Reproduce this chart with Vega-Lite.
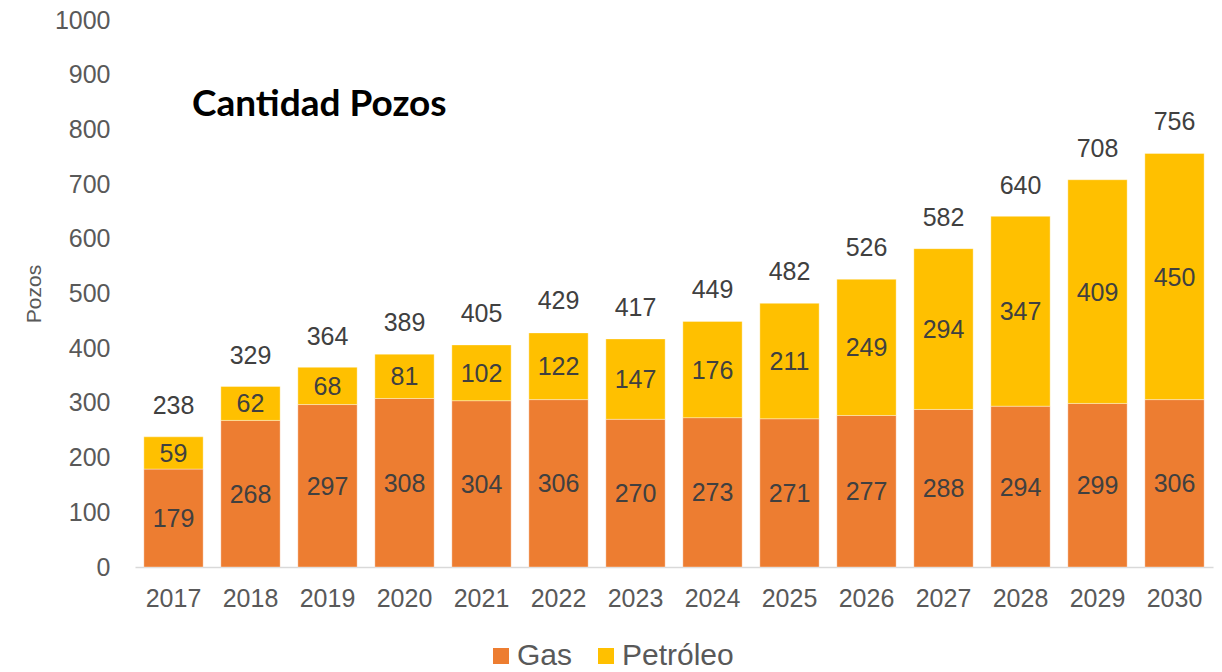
{
  "$schema": "https://vega.github.io/schema/vega-lite/v6.json",
  "width": 1078,
  "height": 547,
  "autosize": {"type": "none"},
  "padding": {"left": 135, "top": 20, "right": 9, "bottom": 105},
  "background": "white",
  "config": {"view": {"stroke": null}, "font": "Liberation Sans"},
  "title": {
    "text": "Cantidad Pozos",
    "anchor": "start",
    "frame": "group",
    "orient": "top",
    "offset": 0,
    "baseline": "alphabetic",
    "dx": 57,
    "dy": 145,
    "font": "Lato",
    "fontSize": 37,
    "fontWeight": "bold",
    "color": "#000000"
  },
  "datasets": {
    "pozos": [
      {"year": "2017", "serie": "Gas", "value": 179},
      {"year": "2018", "serie": "Gas", "value": 268},
      {"year": "2019", "serie": "Gas", "value": 297},
      {"year": "2020", "serie": "Gas", "value": 308},
      {"year": "2021", "serie": "Gas", "value": 304},
      {"year": "2022", "serie": "Gas", "value": 306},
      {"year": "2023", "serie": "Gas", "value": 270},
      {"year": "2024", "serie": "Gas", "value": 273},
      {"year": "2025", "serie": "Gas", "value": 271},
      {"year": "2026", "serie": "Gas", "value": 277},
      {"year": "2027", "serie": "Gas", "value": 288},
      {"year": "2028", "serie": "Gas", "value": 294},
      {"year": "2029", "serie": "Gas", "value": 299},
      {"year": "2030", "serie": "Gas", "value": 306},
      {"year": "2017", "serie": "Petróleo", "value": 59},
      {"year": "2018", "serie": "Petróleo", "value": 62},
      {"year": "2019", "serie": "Petróleo", "value": 68},
      {"year": "2020", "serie": "Petróleo", "value": 81},
      {"year": "2021", "serie": "Petróleo", "value": 102},
      {"year": "2022", "serie": "Petróleo", "value": 122},
      {"year": "2023", "serie": "Petróleo", "value": 147},
      {"year": "2024", "serie": "Petróleo", "value": 176},
      {"year": "2025", "serie": "Petróleo", "value": 211},
      {"year": "2026", "serie": "Petróleo", "value": 249},
      {"year": "2027", "serie": "Petróleo", "value": 294},
      {"year": "2028", "serie": "Petróleo", "value": 347},
      {"year": "2029", "serie": "Petróleo", "value": 409},
      {"year": "2030", "serie": "Petróleo", "value": 450}
    ],
    "totales": [
      {"year": "2017", "total": 238},
      {"year": "2018", "total": 329},
      {"year": "2019", "total": 364},
      {"year": "2020", "total": 389},
      {"year": "2021", "total": 405},
      {"year": "2022", "total": 429},
      {"year": "2023", "total": 417},
      {"year": "2024", "total": 449},
      {"year": "2025", "total": 482},
      {"year": "2026", "total": 526},
      {"year": "2027", "total": 582},
      {"year": "2028", "total": 640},
      {"year": "2029", "total": 708},
      {"year": "2030", "total": 756}
    ]
  },
  "encoding": {
    "x": {
      "field": "year",
      "type": "nominal",
      "scale": {"paddingInner": 0.23, "paddingOuter": 0.115},
      "axis": {
        "title": null,
        "labelAngle": 0,
        "labelFontSize": 25,
        "labelColor": "#595959",
        "labelPadding": 19,
        "ticks": false,
        "domainColor": "#d9d9d9",
        "domainWidth": 1.5
      }
    }
  },
  "layer": [
    {
      "data": {"name": "pozos"},
      "transform": [
        {"stack": "value", "groupby": ["year"], "sort": [{"field": "serie", "order": "ascending"}], "as": ["v0", "v1"]}
      ],
      "mark": {"type": "bar", "stroke": "#ffffff", "strokeWidth": 0.6, "strokeOpacity": 0.6},
      "encoding": {
        "y": {
          "field": "v1",
          "type": "quantitative",
          "scale": {"domain": [0, 1000], "nice": false},
          "axis": {
            "values": [0, 100, 200, 300, 400, 500, 600, 700, 800, 900, 1000],
            "format": "d",
            "grid": false,
            "domain": false,
            "ticks": false,
            "labelFontSize": 25,
            "labelColor": "#595959",
            "labelPadding": 25,
            "title": "Pozos",
            "titleFontSize": 21,
            "titleFontWeight": "normal",
            "titleColor": "#595959",
            "titlePadding": 10
          }
        },
        "y2": {"field": "v0"},
        "color": {
          "field": "serie",
          "type": "nominal",
          "scale": {"domain": ["Gas", "Petróleo"], "range": ["#ED7D31", "#FFC000"]},
          "legend": {
            "title": null,
            "orient": "none",
            "direction": "horizontal",
            "legendX": 351,
            "legendY": 621,
            "symbolType": "square",
            "symbolSize": 256,
            "symbolStrokeWidth": 0,
            "symbolOpacity": 1,
            "labelFontSize": 30,
            "labelColor": "#595959",
            "labelOffset": 1,
            "columnPadding": 18
          }
        }
      }
    },
    {
      "data": {"name": "pozos"},
      "transform": [
        {"stack": "value", "groupby": ["year"], "sort": [{"field": "serie", "order": "ascending"}], "as": ["v0", "v1"]},
        {"calculate": "(datum.v0 + datum.v1) / 2", "as": "mid"}
      ],
      "mark": {"type": "text", "fontSize": 25, "color": "#404040", "baseline": "middle", "dy": 1},
      "encoding": {
        "y": {"field": "mid", "type": "quantitative"},
        "text": {"field": "value", "type": "quantitative"}
      }
    },
    {
      "data": {"name": "totales"},
      "mark": {"type": "text", "fontSize": 25, "color": "#404040", "baseline": "bottom", "dy": -18},
      "encoding": {
        "y": {"field": "total", "type": "quantitative"},
        "text": {"field": "total", "type": "quantitative"}
      }
    }
  ]
}
